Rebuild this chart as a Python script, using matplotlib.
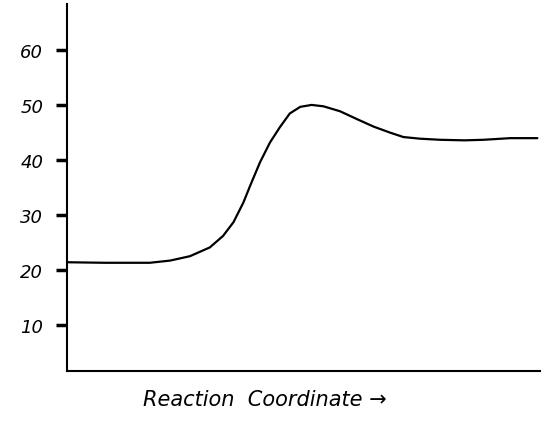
import matplotlib
matplotlib.use("Agg")
import matplotlib.pyplot as plt
import numpy as np

# energy profile (x = reaction coordinate, 0-100)
coord = [0, 8, 17.5, 21.8, 26.0, 30.2, 33.0, 35.2, 37.3, 38.7, 40.8, 42.9,
         45.0, 47.1, 49.3, 51.7, 54.2, 57.7, 61.2, 64.8, 68.3, 71.1, 74.6,
         78.9, 84, 88, 93.7, 99.4]
energy = [21.4, 21.3, 21.3, 21.7, 22.5, 24.1, 26.2, 28.7, 32.3, 35.3, 39.6,
          43.2, 46.0, 48.5, 49.7, 50.05, 49.8, 48.9, 47.5, 46.1, 45.0, 44.2,
          43.9, 43.7, 43.6, 43.7, 44.0, 44.0]

yticks = [10, 20, 30, 40, 50, 60]
yticklabels = ["10", "20", "30", "40", "50", "60"]

fig = plt.figure(figsize=(5.44, 4.31), dpi=100)
ax = fig.add_axes([0.123, 0.137, 0.870, 0.851])

ax.plot(coord, energy, color="black", lw=1.6, solid_capstyle="round",
        solid_joinstyle="round")

ax.set_xlim(0, 100)
ax.set_ylim(1.6, 68.4)
ax.set_xticks([])
ax.set_yticks(yticks)
ax.set_yticklabels(yticklabels, fontsize=13, style="italic")
ax.tick_params(axis="y", direction="out", length=8, width=2.5, pad=9)

for s in ["top", "right"]:
    ax.spines[s].set_visible(False)
ax.spines["left"].set_linewidth(1.5)
ax.spines["bottom"].set_linewidth(1.5)

fig.text(265 / 544, 1 - 400 / 431, "Reaction  Coordinate \u2192",
         ha="center", va="center", fontsize=15, style="italic")

fig.savefig("out.png", dpi=100)
